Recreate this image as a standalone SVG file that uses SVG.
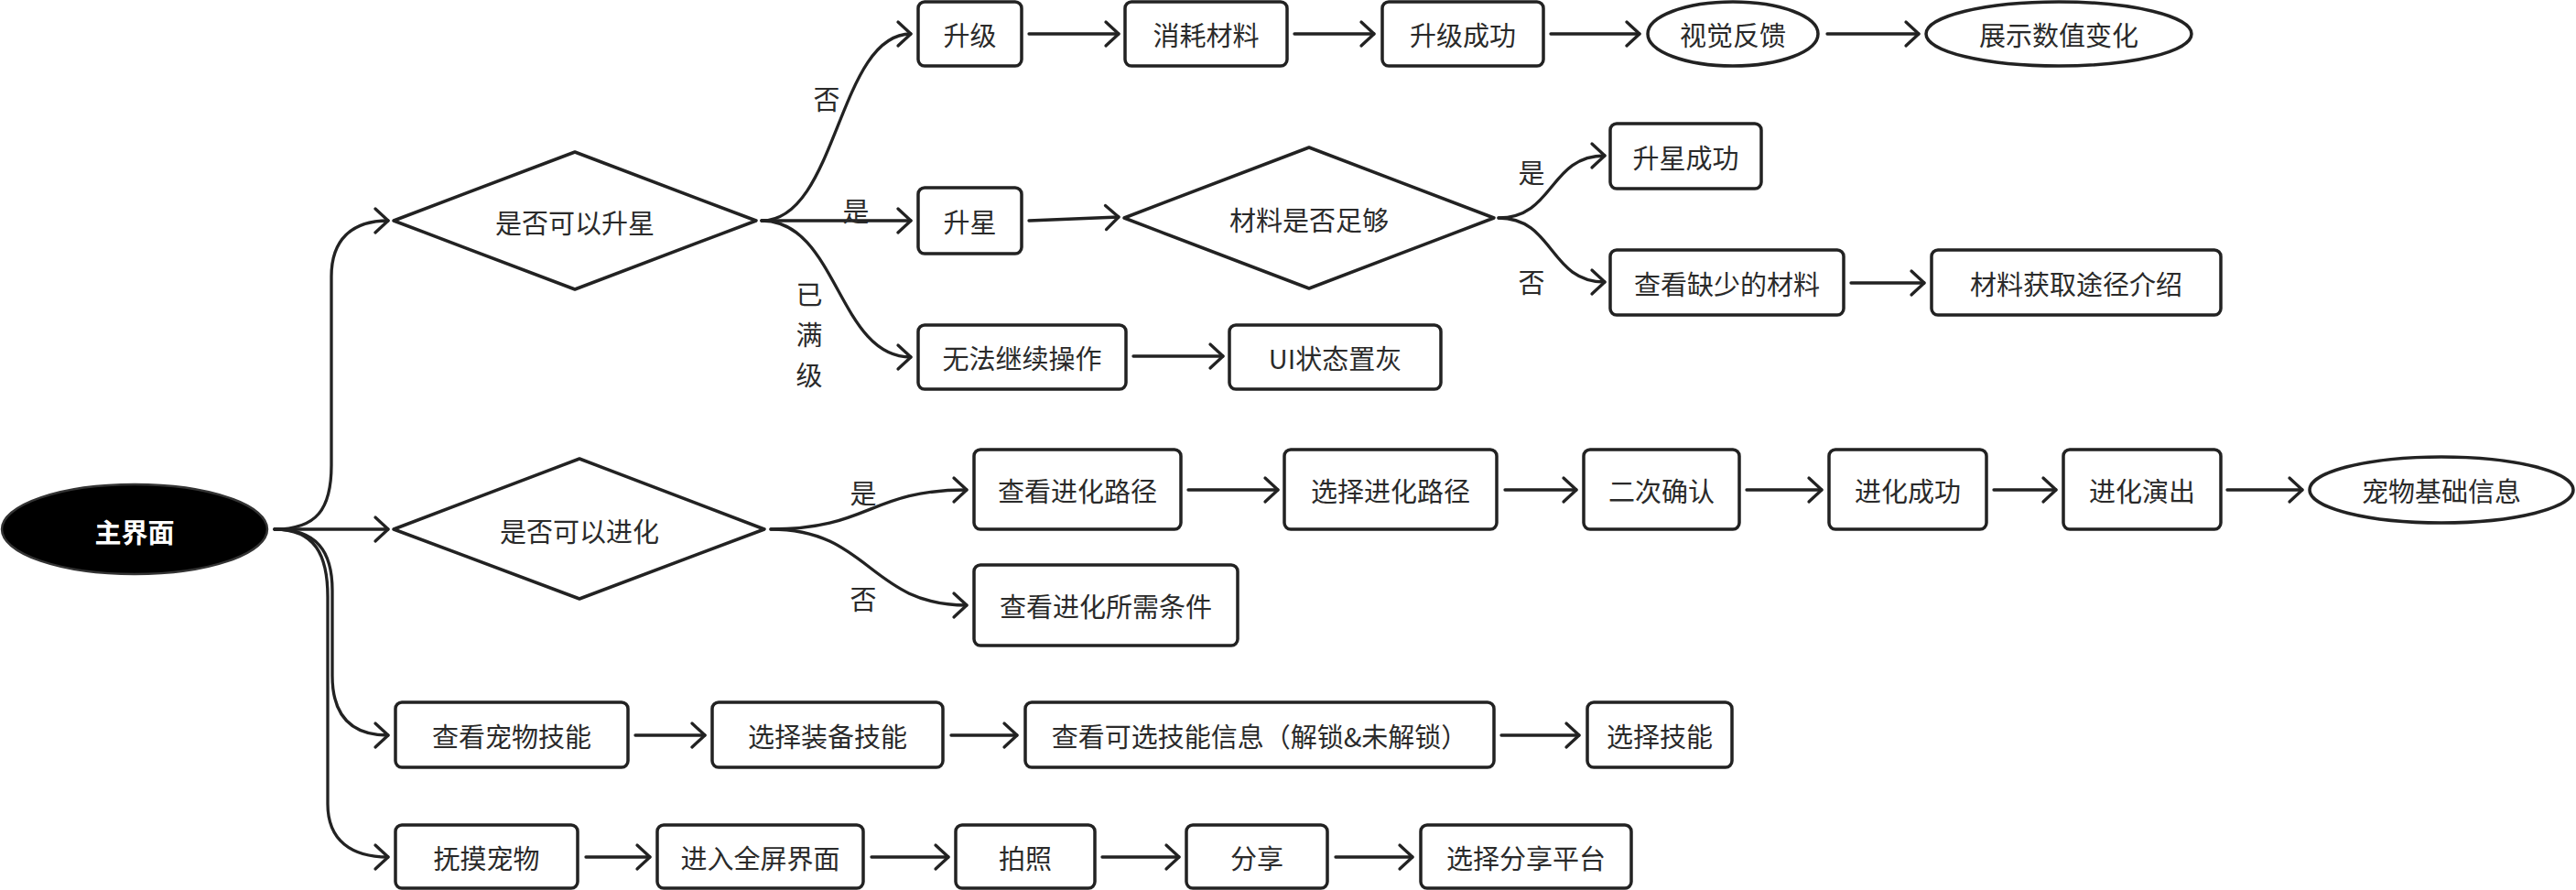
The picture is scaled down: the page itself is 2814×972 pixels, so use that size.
<svg xmlns="http://www.w3.org/2000/svg" width="2814" height="972" viewBox="0 0 2814 972">
<style>
.box{fill:#fff;stroke:#222;stroke-width:3.5}
.t{font-family:"Noto Sans CJK SC","Noto Sans",sans-serif;font-size:29px;fill:#2a2a2a;text-anchor:middle;dominant-baseline:central}
.w{fill:#fff;font-weight:bold}
.e{fill:none;stroke:#222;stroke-width:3.3;stroke-linecap:round;marker-end:url(#arr)}
</style>
<defs>
<marker id="arr" markerUnits="userSpaceOnUse" markerWidth="24" markerHeight="34" refX="18" refY="17" orient="auto">
<path d="M4,4 L18,17 L4,30" fill="none" stroke="#222" stroke-width="3.3" stroke-linecap="round" stroke-linejoin="round"/>
</marker>
</defs>
<rect width="2814" height="972" fill="#fff"/>
<g id="connectors">
<path class="e" d="M300,578 C346,578 362,556 362,508 L362,302 C362,262 384,241 424,241"/>
<path class="e" d="M300,578 L424,578"/>
<path class="e" d="M300,578 C346,578 363,602 363,645 L363,738 C363,784 386,803 424,803"/>
<path class="e" d="M300,578 C344,578 358,606 358,652 L358,878 C358,918 384,936 424,936"/>
<path class="e" d="M832,241 C915,241 915,37 995,37"/>
<path class="e" d="M832,241 L995,241"/>
<path class="e" d="M832,241 C915,241 915,390 995,390"/>
<path class="e" d="M1124,37 L1222,37"/>
<path class="e" d="M1414,37 L1501,37"/>
<path class="e" d="M1694,37 L1791,37"/>
<path class="e" d="M1996,37 L2096,37"/>
<path class="e" d="M1124,241 L1222,237"/>
<path class="e" d="M1637,238 C1698,238 1692,170 1753,170"/>
<path class="e" d="M1637,238 C1698,238 1692,308 1753,308"/>
<path class="e" d="M2022,309 L2102,309"/>
<path class="e" d="M1238,389 L1336,389"/>
<path class="e" d="M842,578 C950,578 950,535 1056,535"/>
<path class="e" d="M842,578 C950,578 950,661 1056,661"/>
<path class="e" d="M1298,535 L1396,535"/>
<path class="e" d="M1644,535 L1722,535"/>
<path class="e" d="M1908,535 L1990,535"/>
<path class="e" d="M2178,535 L2246,535"/>
<path class="e" d="M2433,535 L2515,535"/>
<path class="e" d="M694,803 L770,803"/>
<path class="e" d="M1039,803 L1111,803"/>
<path class="e" d="M1640,803 L1725,803"/>
<path class="e" d="M640,936 L710,936"/>
<path class="e" d="M952,936 L1036,936"/>
<path class="e" d="M1204,936 L1288,936"/>
<path class="e" d="M1459,936 L1543,936"/>
</g>
<g id="labels">
<text class="t" x="903" y="107">否</text>
<text class="t" x="935" y="229">是</text>
<text class="t" x="884" y="320">已</text>
<text class="t" x="884" y="364">满</text>
<text class="t" x="884" y="408">级</text>
<text class="t" x="1673" y="187">是</text>
<text class="t" x="1673" y="307">否</text>
<text class="t" x="943" y="537">是</text>
<text class="t" x="943" y="653">否</text>
</g>
<g id="main"><ellipse cx="147" cy="578" rx="145" ry="49" fill="#000" stroke="#333" stroke-width="2.5"/><text class="t w" x="147" y="580">主界面</text></g>
<g id="d1"><path class="box" stroke-linejoin="round" d="M430,241 L628,166 L826,241 L628,316 Z"/><text class="t" x="628" y="242">是否可以升星</text></g>
<g id="n_shengji"><rect class="box" x="1003" y="2" width="113" height="70" rx="7"/><text class="t" x="1059.5" y="37">升级</text></g>
<g id="n_xiaohao"><rect class="box" x="1229" y="2" width="177" height="70" rx="7"/><text class="t" x="1317.5" y="37">消耗材料</text></g>
<g id="n_sjcg"><rect class="box" x="1510" y="2" width="176" height="70" rx="7"/><text class="t" x="1598" y="37">升级成功</text></g>
<g id="n_shijue"><ellipse class="box" cx="1893" cy="37" rx="93" ry="35"/><text class="t" x="1893" y="37">视觉反馈</text></g>
<g id="n_zhanshi"><ellipse class="box" cx="2249" cy="37" rx="145" ry="35"/><text class="t" x="2249" y="37">展示数值变化</text></g>
<g id="n_shengxing"><rect class="box" x="1003" y="205" width="113" height="72" rx="7"/><text class="t" x="1059.5" y="241">升星</text></g>
<g id="d2"><path class="box" stroke-linejoin="round" d="M1228,238 L1430,161 L1632,238 L1430,315 Z"/><text class="t" x="1430" y="239">材料是否足够</text></g>
<g id="n_sxcg"><rect class="box" x="1759" y="135" width="165" height="71" rx="7"/><text class="t" x="1841.5" y="170.5">升星成功</text></g>
<g id="n_queshao"><rect class="box" x="1759" y="273" width="255" height="71" rx="7"/><text class="t" x="1886.5" y="308.5">查看缺少的材料</text></g>
<g id="n_huoqu"><rect class="box" x="2110" y="273" width="316" height="71" rx="7"/><text class="t" x="2268" y="308.5">材料获取途径介绍</text></g>
<g id="n_wufa"><rect class="box" x="1003" y="355" width="227" height="70" rx="7"/><text class="t" x="1116.5" y="390">无法继续操作</text></g>
<g id="n_ui"><rect class="box" x="1343" y="355" width="231" height="70" rx="7"/><text class="t" x="1458.5" y="390">UI状态置灰</text></g>
<g id="d3"><path class="box" stroke-linejoin="round" d="M430,578 L633,501 L835,578 L633,654 Z"/><text class="t" x="633" y="579">是否可以进化</text></g>
<g id="n_jhlj"><rect class="box" x="1064" y="491" width="226" height="87" rx="7"/><text class="t" x="1177" y="534.5">查看进化路径</text></g>
<g id="n_xzjh"><rect class="box" x="1403" y="491" width="232" height="87" rx="7"/><text class="t" x="1519" y="534.5">选择进化路径</text></g>
<g id="n_ecqr"><rect class="box" x="1730" y="491" width="170" height="87" rx="7"/><text class="t" x="1815" y="534.5">二次确认</text></g>
<g id="n_jhcg"><rect class="box" x="1998" y="491" width="172" height="87" rx="7"/><text class="t" x="2084" y="534.5">进化成功</text></g>
<g id="n_jhyc"><rect class="box" x="2254" y="491" width="172" height="87" rx="7"/><text class="t" x="2340" y="534.5">进化演出</text></g>
<g id="n_jcxx"><ellipse class="box" cx="2667" cy="535" rx="144" ry="36"/><text class="t" x="2667" y="535">宠物基础信息</text></g>
<g id="n_jhtj"><rect class="box" x="1064" y="617" width="288" height="88" rx="7"/><text class="t" x="1208" y="661">查看进化所需条件</text></g>
<g id="n_cwjn"><rect class="box" x="432" y="767" width="254" height="71" rx="7"/><text class="t" x="559" y="802.5">查看宠物技能</text></g>
<g id="n_zbjn"><rect class="box" x="778" y="767" width="252" height="71" rx="7"/><text class="t" x="904" y="802.5">选择装备技能</text></g>
<g id="n_kxjn"><rect class="box" x="1120" y="767" width="512" height="71" rx="7"/><text class="t" x="1376" y="802.5">查看可选技能信息（解锁&amp;未解锁）</text></g>
<g id="n_xzjn"><rect class="box" x="1734" y="767" width="158" height="71" rx="7"/><text class="t" x="1813" y="802.5">选择技能</text></g>
<g id="n_fumo"><rect class="box" x="432" y="901" width="199" height="69" rx="7"/><text class="t" x="531.5" y="936">抚摸宠物</text></g>
<g id="n_qp"><rect class="box" x="718" y="901" width="225" height="69" rx="7"/><text class="t" x="830.5" y="936">进入全屏界面</text></g>
<g id="n_pz"><rect class="box" x="1044" y="901" width="152" height="69" rx="7"/><text class="t" x="1120" y="936">拍照</text></g>
<g id="n_fx"><rect class="box" x="1296" y="901" width="154" height="69" rx="7"/><text class="t" x="1373" y="936">分享</text></g>
<g id="n_fxpt"><rect class="box" x="1552" y="901" width="230" height="69" rx="7"/><text class="t" x="1667" y="936">选择分享平台</text></g>
</svg>
